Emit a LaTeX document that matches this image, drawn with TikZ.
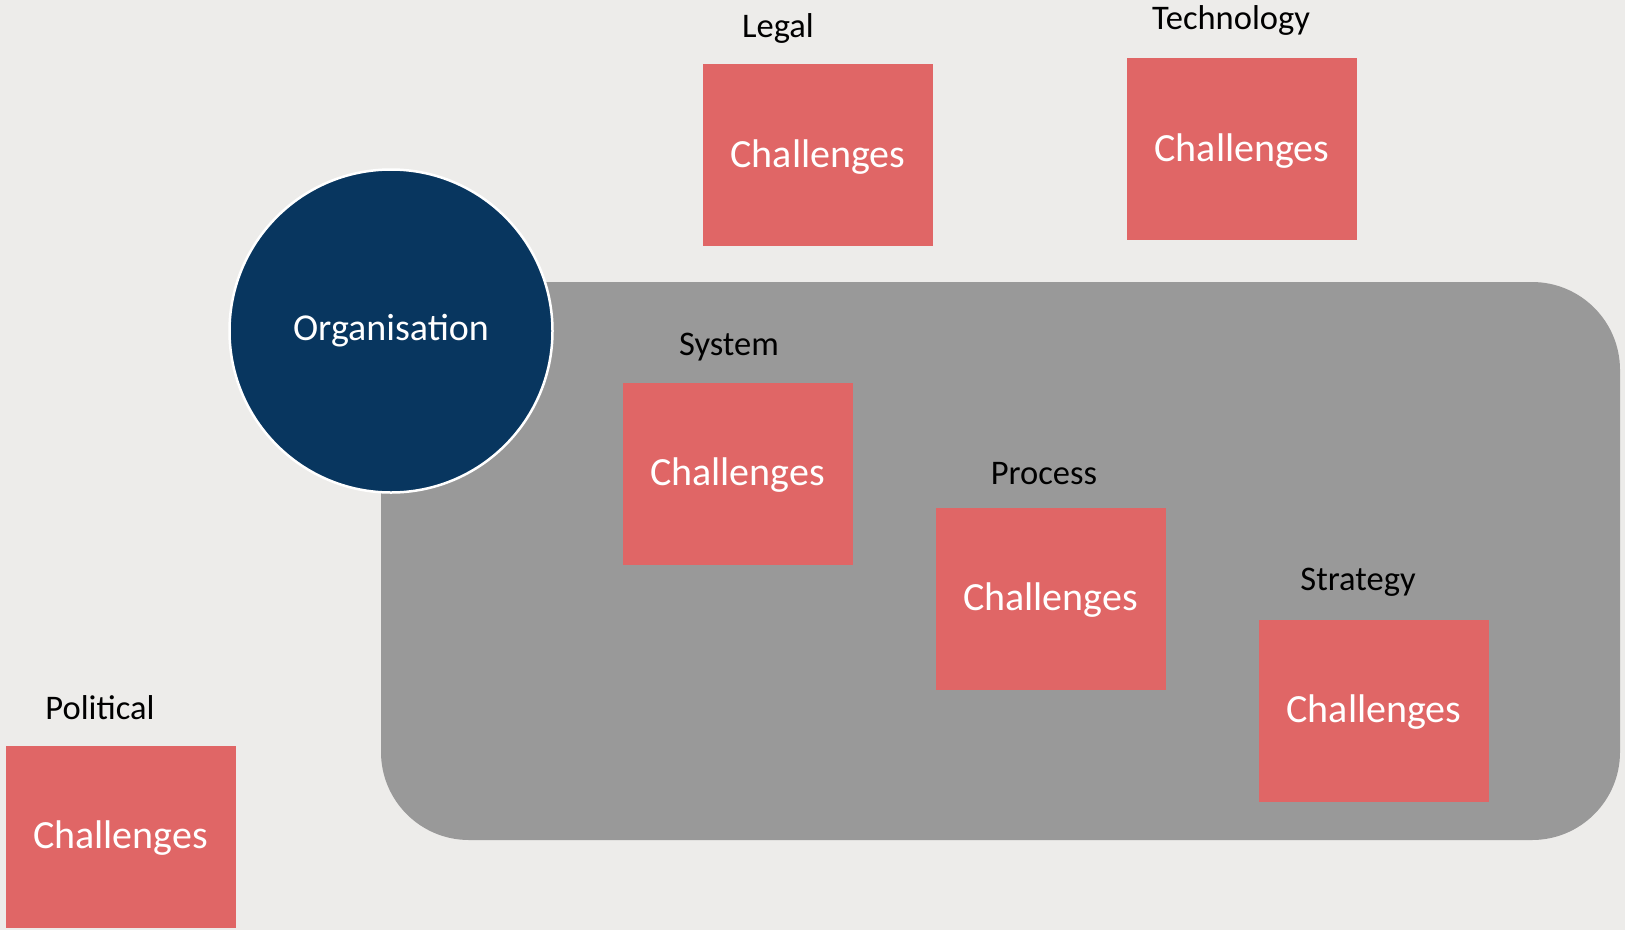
\documentclass[tikz,border=0pt]{standalone}
\usepackage{fontspec}
\setmainfont{Carlito}
\definecolor{bgc}{HTML}{EDECEA}
\definecolor{panel}{HTML}{999999}
\definecolor{navy}{HTML}{08365F}
\definecolor{chal}{HTML}{E06666}
\tikzset{
  chalbox/.style={fill=chal, draw=none, minimum width=230pt, minimum height=182pt, inner sep=0pt, text=white, font=\fontsize{40}{48}\selectfont},
  chaltext/.style={inner sep=0pt, text=white, font=\fontsize{40}{48}\selectfont},
  lab/.style={anchor=base, inner sep=0pt, text=black, font=\fontsize{34.5}{40}\selectfont},
}
\begin{document}
\begin{tikzpicture}[x=1pt,y=-1pt]
\useasboundingbox (0,0) rectangle (1625,930);
\fill[bgc] (0,0) rectangle (1625,930);
\fill[panel, rounded corners=88pt] (381,282) rectangle (1620,840);
\node[circle, fill=navy, draw=white, line width=2.5pt, minimum size=323pt, inner sep=0pt, text=white, font=\fontsize{38}{44}\selectfont] (org) at (391,331) {Organisation};
\node[chalbox] (legal) at (818,155) {};
\node[chalbox] (tech) at (1242,149) {};
\node[chalbox] (sys) at (737.5,473.5) {};
\node[chalbox] (proc) at (1050.5,598.5) {};
\node[chalbox] (strat) at (1374,710.5) {};
\node[chalbox] (pol) at (120.5,836.5) {};
\foreach \n in {legal,tech,sys,proc,strat,pol}
  \node[chaltext] (\n T) at ([yshift=-2pt]\n.center) {Challenges};
\node[lab] (legalL) at (778,37) {Legal};
\node[lab] (techL) at (1231,29) {Technology};
\node[lab] (sysL) at (729,355) {System};
\node[lab] (procL) at (1044,484) {Process};
\node[lab] (stratL) at (1358,590) {Strategy};
\node[lab] (polL) at (100,719) {Political};
\end{tikzpicture}
\end{document}
